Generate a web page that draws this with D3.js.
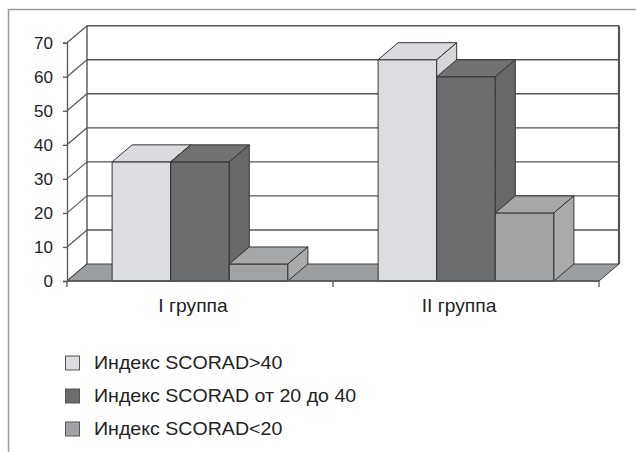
<!DOCTYPE html>
<html>
<head>
<meta charset="utf-8">
<script src="https://cdn.jsdelivr.net/npm/d3@7"></script>
<style>
  html, body { margin: 0; padding: 0; background: #fff; }
  svg { display: block; font-family: "Liberation Sans", Arial, sans-serif; }
</style>
</head>
<body>
<svg id="chart" width="636" height="452"></svg>
<script>
// Groups, series and values
const categories = ["I группа", "II группа"];
const seriesNames = ["Индекс SCORAD>40", "Индекс SCORAD от 20 до 40", "Индекс SCORAD<20"];
const valuesScoradOver40 = [35, 65];
const valuesScorad20to40 = [35, 60];
const valuesScoradUnder20 = [5, 20];
const yTicks = [0, 10, 20, 30, 40, 50, 60, 70];

const seriesValues = [valuesScoradOver40, valuesScorad20to40, valuesScoradUnder20];

// Fill shades per series: front, top, side
const shades = [
  { front: "#dcdde0", top: "#dadbde", side: "#d4d5d8" },
  { front: "#6c6d6f", top: "#717274", side: "#67686a" },
  { front: "#a2a3a5", top: "#a6a7a9", side: "#a9aaac" }
];

const svg = d3.select("#chart");

// Plot geometry and the 3D depth offset
const plotLeft = 67, plotRight = 599, plotBottom = 281, plotTop = 42.7;
const dx = 20, dy = -17;

const x = d3.scaleBand().domain(categories).range([plotLeft, plotRight]).paddingInner(0).paddingOuter(0);
const inner = d3.scaleBand().domain(d3.range(seriesNames.length))
  .range([0, x.bandwidth()]).paddingOuter(0.77).paddingInner(0);
const y = d3.scaleLinear().domain([0, 70]).range([plotBottom, plotTop]);

// Outer frame (top and left edges)
svg.append("path")
  .attr("d", "M8.5,452 L8.5,9.5 L636,9.5")
  .attr("fill", "none").attr("stroke", "#9a9a9a").attr("stroke-width", 1.5);

const walls = svg.append("g");

// Back-wall gridlines
walls.selectAll("line.grid").data(yTicks.filter(d => d > 0)).join("line")
  .attr("class", "grid")
  .attr("x1", plotLeft + dx).attr("x2", plotRight + dx)
  .attr("y1", d => y(d) + dy).attr("y2", d => y(d) + dy)
  .attr("stroke", "#555").attr("stroke-width", 1.4);

// Side-wall diagonals
walls.selectAll("line.diag").data(yTicks).join("line")
  .attr("class", "diag")
  .attr("x1", plotLeft).attr("y1", d => y(d))
  .attr("x2", plotLeft + dx).attr("y2", d => y(d) + dy)
  .attr("stroke", "#555").attr("stroke-width", 1.2);

// Back-wall vertical edges
walls.append("line")
  .attr("x1", plotLeft + dx).attr("x2", plotLeft + dx)
  .attr("y1", y(0) + dy).attr("y2", y(70) + dy)
  .attr("stroke", "#555").attr("stroke-width", 1.4);
walls.append("line")
  .attr("x1", plotRight + dx).attr("x2", plotRight + dx)
  .attr("y1", y(0) + dy).attr("y2", y(70) + dy)
  .attr("stroke", "#555").attr("stroke-width", 2.2);

// Floor
walls.append("path")
  .attr("d", `M${plotLeft},${y(0)} L${plotRight},${y(0)} L${plotRight + dx},${y(0) + dy} L${plotLeft + dx},${y(0) + dy} Z`)
  .attr("fill", "#9d9ea0").attr("stroke", "#444").attr("stroke-width", 1);

// Bars as boxes, drawn left to right
const bars = [];
categories.forEach((c, ci) => {
  seriesValues.forEach((vals, si) => {
    bars.push({ cat: c, series: si, value: vals[ci] });
  });
});

const barG = svg.append("g").selectAll("g").data(bars).join("g");

barG.each(function(d) {
  const g = d3.select(this);
  const x0 = x(d.cat) + inner(d.series);
  const x1 = x0 + inner.bandwidth();
  const y0 = y(0), y1 = y(d.value);
  const s = shades[d.series];
  const faces = [
    { path: `M${x0},${y1} L${x1},${y1} L${x1},${y0} L${x0},${y0} Z`, fill: s.front },
    { path: `M${x0},${y1} L${x0 + dx},${y1 + dy} L${x1 + dx},${y1 + dy} L${x1},${y1} Z`, fill: s.top },
    { path: `M${x1},${y1} L${x1 + dx},${y1 + dy} L${x1 + dx},${y0 + dy} L${x1},${y0} Z`, fill: s.side }
  ];
  faces.forEach(f => {
    g.append("path").attr("d", f.path).attr("fill", f.fill)
      .attr("stroke", "#333").attr("stroke-width", 1).attr("stroke-linejoin", "round");
  });
});

// Y axis
const yAxis = d3.axisLeft(y).tickValues(yTicks).tickSize(4).tickPadding(10);
const yg = svg.append("g").attr("transform", `translate(${plotLeft},0)`).call(yAxis);
yg.select(".domain").attr("stroke", "#555").attr("stroke-width", 1.3);
yg.selectAll(".tick line").attr("stroke", "#555").attr("stroke-width", 1.3);
yg.selectAll(".tick text").attr("font-size", 17).attr("fill", "#222")
  .attr("font-family", "'Liberation Sans', Arial, sans-serif");

// X axis
const xg = svg.append("g").attr("transform", `translate(0,${plotBottom})`);
xg.append("line").attr("x1", plotLeft).attr("x2", plotRight).attr("y1", 0).attr("y2", 0)
  .attr("stroke", "#555").attr("stroke-width", 1.3);
const xTickPos = [plotLeft, ...categories.slice(1).map(c => x(c)), plotRight];
xg.selectAll("line.xt").data(xTickPos).join("line")
  .attr("class", "xt")
  .attr("x1", d => d).attr("x2", d => d).attr("y1", 0).attr("y2", 6)
  .attr("stroke", "#555").attr("stroke-width", 1.3);
xg.selectAll("text.cat").data(categories).join("text")
  .attr("class", "cat")
  .attr("transform", d => `translate(${x(d) + x.bandwidth() / 2 - 7},31) scale(1.1,1)`)
  .attr("text-anchor", "middle")
  .attr("font-size", 17.5).attr("fill", "#222")
  .text(d => d);

// Legend
const legend = svg.append("g").attr("transform", "translate(65,363)");
const rows = legend.selectAll("g").data(seriesNames).join("g")
  .attr("transform", (d, i) => `translate(0,${i * 33})`);
rows.append("rect")
  .attr("x", 0.5).attr("y", -7).attr("width", 14).attr("height", 14)
  .attr("fill", (d, i) => shades[i].front)
  .attr("stroke", "#555").attr("stroke-width", 1);
rows.append("text")
  .attr("transform", "translate(29,0) scale(1.06,1)")
  .attr("dy", "0.35em")
  .attr("font-size", 18.5).attr("fill", "#222")
  .text(d => d);
</script>
</body>
</html>
